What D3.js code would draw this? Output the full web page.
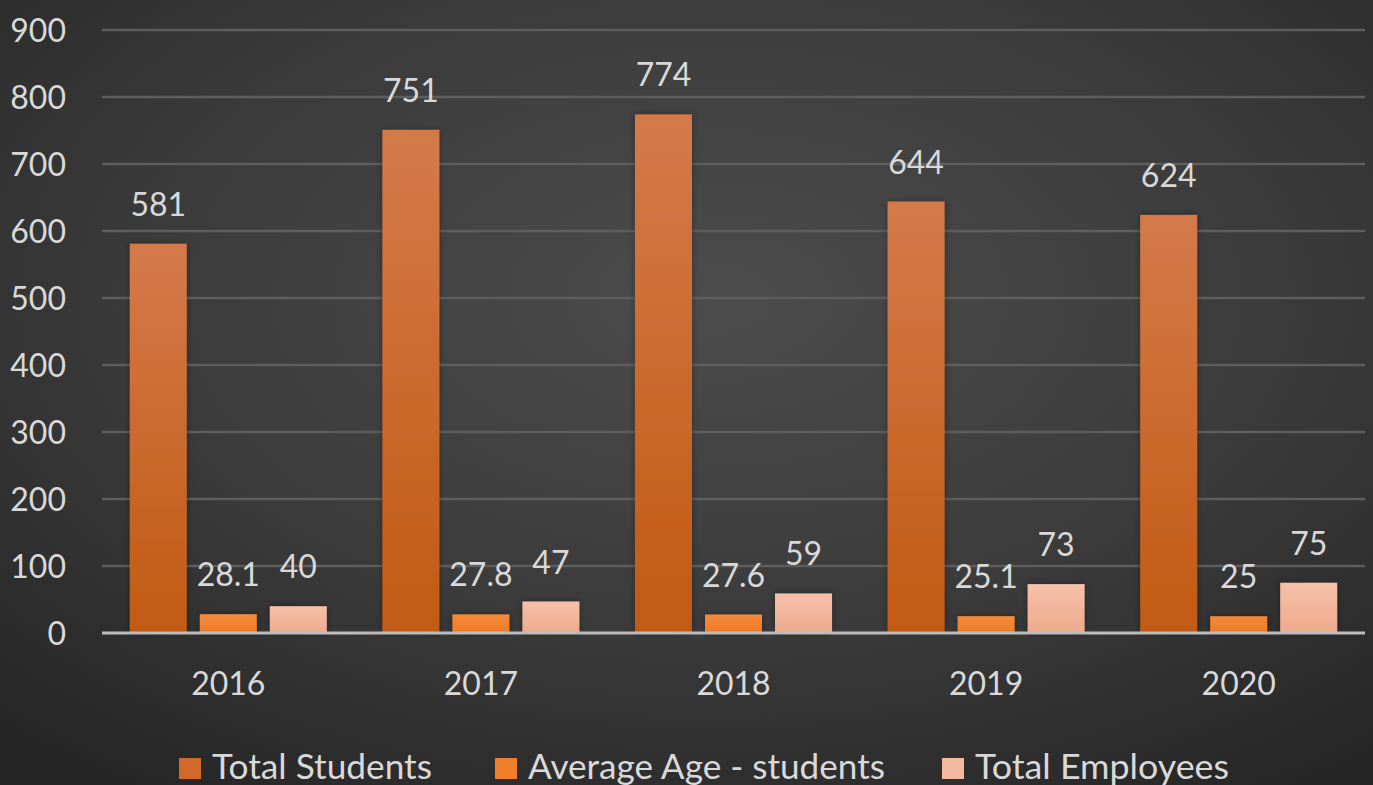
<!DOCTYPE html>
<html>
<head>
<meta charset="utf-8">
<script src="https://cdn.jsdelivr.net/npm/d3@7"></script>
<style>
  html, body { margin: 0; padding: 0; background: #2e2e2e; }
  svg { display: block; }
  text { font-family: Lato, "Open Sans", sans-serif; fill: #d9d9d9; }
</style>
</head>
<body>
<svg id="chart" width="1373" height="785"></svg>
<script>
// Yearly figures
const years = ["2016", "2017", "2018", "2019", "2020"];
const totalStudents = [581, 751, 774, 644, 624];
const averageAge = [28.1, 27.8, 27.6, 25.1, 25];
const totalEmployees = [40, 47, 59, 73, 75];
const seriesNames = ["Total Students", "Average Age - students", "Total Employees"];
const yTicks = [0, 100, 200, 300, 400, 500, 600, 700, 800, 900];

const W = 1373, H = 785;
const svg = d3.select("#chart");
const defs = svg.append("defs");

// Dark backdrop with a soft central glow
const bg = defs.append("radialGradient").attr("id", "bg")
  .attr("cx", "52%").attr("cy", "38%").attr("r", "75%");
bg.append("stop").attr("offset", "0%").attr("stop-color", "#4c4c4c");
bg.append("stop").attr("offset", "55%").attr("stop-color", "#3b3b3b");
bg.append("stop").attr("offset", "100%").attr("stop-color", "#262626");
svg.append("rect").attr("width", W).attr("height", H).attr("fill", "url(#bg)");

// Bar fills
function vGrad(id, top, bottom) {
  const g = defs.append("linearGradient").attr("id", id)
    .attr("x1", 0).attr("y1", 0).attr("x2", 0).attr("y2", 1);
  g.append("stop").attr("offset", "0%").attr("stop-color", top);
  g.append("stop").attr("offset", "100%").attr("stop-color", bottom);
}
vGrad("g0", "#d47a4a", "#c25a13");
vGrad("g1", "#f48a3c", "#ee7a24");
vGrad("g2", "#f6c0aa", "#eeaa8c");
const fills = ["url(#g0)", "url(#g1)", "url(#g2)"];
const swatch = ["#d0692a", "#f07f2a", "#f4b8a0"];

const shadow = defs.append("filter").attr("id", "shadow")
  .attr("x", "-20%").attr("y", "-20%").attr("width", "140%").attr("height", "140%");
shadow.append("feDropShadow").attr("dx", 0).attr("dy", 0)
  .attr("stdDeviation", 3).attr("flood-color", "#000").attr("flood-opacity", 0.35);

const plotLeft = 102, plotRight = 1365, plotTop = 30, plotBottom = 633;

const x0 = d3.scaleBand().domain(years).range([plotLeft, plotRight])
  .paddingInner(0.22).paddingOuter(0.11);
const x1 = d3.scaleBand().domain(d3.range(3)).range([0, x0.bandwidth()])
  .paddingInner(0.186);
const y = d3.scaleLinear().domain([0, 900]).range([plotBottom, plotTop]);

// Gridlines
svg.append("g").selectAll("line").data(yTicks.filter(t => t > 0)).join("line")
  .attr("x1", plotLeft).attr("x2", plotRight)
  .attr("y1", d => y(d)).attr("y2", d => y(d))
  .attr("stroke", "#5e5e5e").attr("stroke-width", 2.5);

// Y tick labels
const yAxis = d3.axisLeft(y).tickValues(yTicks).tickSize(0).tickPadding(0);
const yg = svg.append("g").attr("transform", `translate(66,0)`).call(yAxis);
yg.select(".domain").remove();
yg.selectAll("text").attr("font-size", 32).attr("fill", "#d9d9d9")
  .attr("font-family", "Lato, sans-serif").attr("dy", "0.36em");

// Bars
const rows = years.map((yr, i) => ({ year: yr, values: [totalStudents[i], averageAge[i], totalEmployees[i]] }));
const groups = svg.append("g").selectAll("g").data(rows).join("g")
  .attr("transform", d => `translate(${x0(d.year)},0)`);

groups.selectAll("rect").data(d => d.values.map((v, k) => ({ v, k }))).join("rect")
  .attr("x", d => x1(d.k)).attr("width", x1.bandwidth())
  .attr("y", d => y(d.v)).attr("height", d => plotBottom - y(d.v))
  .attr("fill", d => fills[d.k]).attr("filter", "url(#shadow)");

// Value labels
groups.selectAll("text.val").data(d => d.values.map((v, k) => ({ v, k }))).join("text")
  .attr("class", "val")
  .attr("x", d => x1(d.k) + x1.bandwidth() / 2)
  .attr("y", d => y(d.v) - 28)
  .attr("text-anchor", "middle").attr("font-size", 32)
  .text(d => d.v);

// Baseline
svg.append("line").attr("x1", plotLeft).attr("x2", plotRight)
  .attr("y1", plotBottom).attr("y2", plotBottom)
  .attr("stroke", "#bdbdbd").attr("stroke-width", 3);

// X axis labels
const xAxis = d3.axisBottom(x0).tickSize(0).tickPadding(0);
const xg = svg.append("g").attr("transform", `translate(0,695)`).call(xAxis);
xg.select(".domain").remove();
xg.selectAll("text").attr("font-size", 32).attr("fill", "#d9d9d9")
  .attr("font-family", "Lato, sans-serif").attr("dy", 0);

// Legend
const legendX = [179, 495, 942];
const legendLen = [220, 357, 254];
const legend = svg.append("g").selectAll("g").data(seriesNames).join("g")
  .attr("transform", (d, i) => `translate(${legendX[i]},0)`);
legend.append("rect").attr("x", 0).attr("y", 758).attr("width", 22).attr("height", 21)
  .attr("fill", (d, i) => swatch[i]);
legend.append("text").attr("x", 33).attr("y", 779).attr("font-size", 34)
  .attr("textLength", (d, i) => legendLen[i]).attr("lengthAdjust", "spacingAndGlyphs")
  .text(d => d);
</script>
</body>
</html>
